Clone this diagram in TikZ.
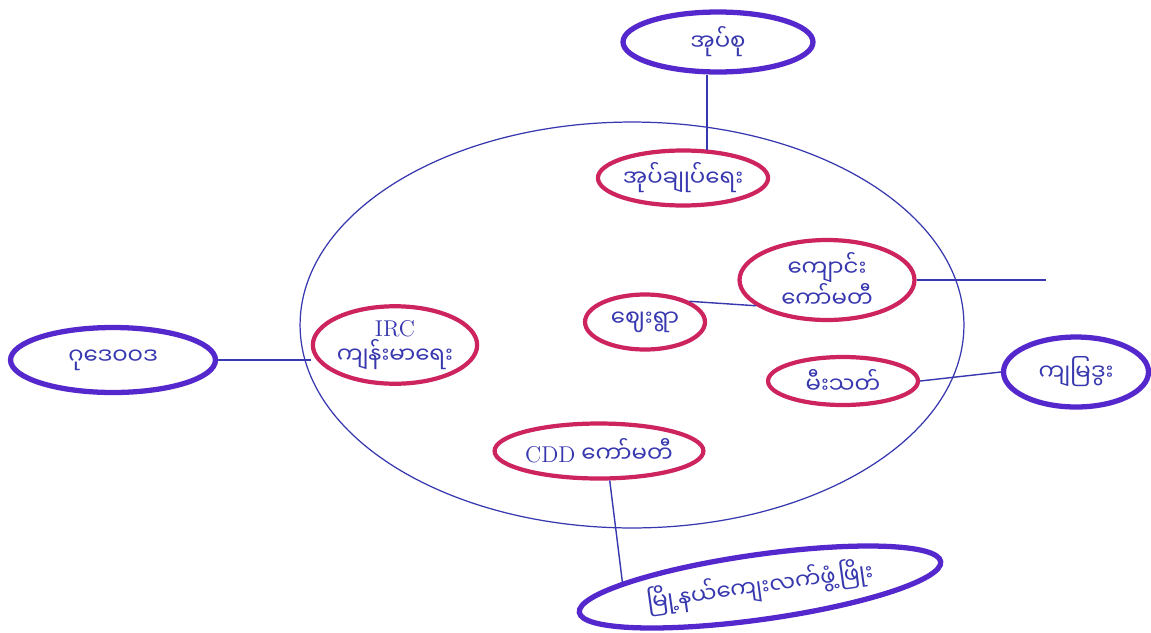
\documentclass[tikz,border=0pt]{standalone}
\usepackage{fontspec}
\usepackage{tikz}
\usetikzlibrary{shapes.geometric}
\newfontfamily\mmfont[Script=Myanmar]{Noto Sans Myanmar UI}
\definecolor{inkpink}{RGB}{205,35,95}
\definecolor{inkviolet}{RGB}{85,40,205}
\definecolor{penblue}{RGB}{55,55,175}

\begin{document}
\begin{tikzpicture}[x = 0.02cm, y = -0.02cm,
    inner/.style = {ellipse, draw = inkpink, line width = 2.4pt, text = penblue,
      font = \mmfont\fontsize{13}{15}\selectfont, align = center, inner sep = 0pt},
    outer/.style = {ellipse, draw = inkviolet, line width = 3pt, text = penblue,
      font = \mmfont\fontsize{13}{15}\selectfont, inner sep = 0pt},
    link/.style = {draw = penblue, line width = 0.8pt}]
              \useasboundingbox (0,0) rectangle (1151,632);
              \fill [white] (0,0) rectangle (1151,632);
              \draw [penblue, line width = 0.7pt] (632,325) ellipse [x radius = 6.64cm, y radius = 4.06cm];
              % inner ring
              \node [inner, minimum width = 2.7cm, minimum height = 1.1cm] (admin) at (683,178) {အုပ်ချုပ်ရေး};
              \node [inner, minimum width = 3.5cm, minimum height = 1.6cm] (school) at (827,280) {ကျောင်း\\ကော်မတီ};
              \node [inner, minimum width = 2.4cm, minimum height = 1.1cm] (market) at (645,322) {ဈေးရွာ};
              \node [inner, minimum width = 3.0cm, minimum height = 1.55cm] (irc) at (395,345) {{\rmfamily IRC}\\ကျန်းမာရေး};
              \node [inner, minimum width = 3.0cm, minimum height = 0.96cm] (fire) at (843,381) {မီးသတ်};
              \node [inner, minimum width = 4.0cm, minimum height = 1.1cm] (cdd) at (599,451) {{\rmfamily CDD} ကော်မတီ};
              % outer ring
              \node [outer, minimum width = 3.8cm, minimum height = 1.2cm] (group) at (718,42) {အုပ်စု};
              \node [outer, minimum width = 4.1cm, minimum height = 1.3cm] (leftorg) at (113,360) {ဂုဒေဝဝဒ};
              \node [outer, minimum width = 2.9cm, minimum height = 1.4cm] (rightorg) at (1076,372) {ကျမြဒွး};
              \node [outer, minimum width = 7.3cm, minimum height = 1.3cm, rotate = 8] (rural) at (760,587) {မြို့နယ်ကျေးလက်ဖွံ့ဖြိုး};
              \coordinate (edge) at (1046,280);
              % links
              \draw [link] (admin.50 |- group.south) -- (admin.50);
              \draw [link] (market.25) -- (school.200);
              \draw [link] (school.east) -- (edge);
              \draw [link] (leftorg.east) -- (leftorg.east -| irc.west);
              \draw [link] (fire.east) -- (rightorg.west);
              \draw [link] (cdd.290) -- (rural.170);
            \end{tikzpicture}
\end{document}
